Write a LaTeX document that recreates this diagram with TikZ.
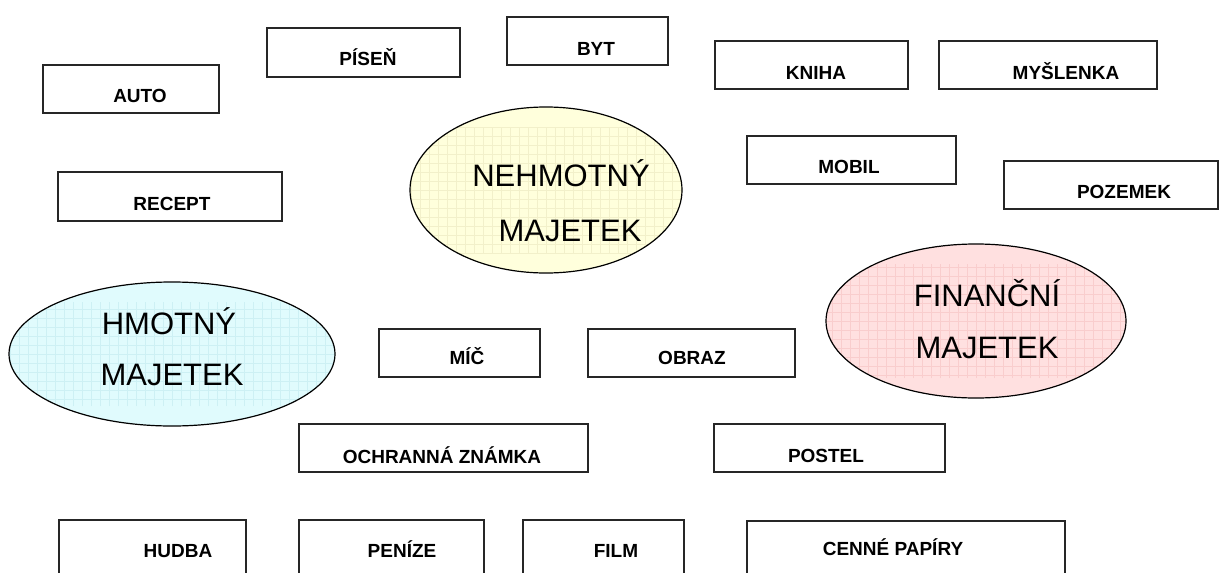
\documentclass[tikz,border=0pt]{standalone}
\usepackage{fontspec}
\setmainfont{Liberation Sans}
\usetikzlibrary{shapes.geometric}
\definecolor{cyfill}{HTML}{E0FBFD}
\definecolor{cygrid}{HTML}{CDF0F4}
\definecolor{yefill}{HTML}{FFFFDC}
\definecolor{yegrid}{HTML}{F2F0CA}
\definecolor{pkfill}{HTML}{FFE0E0}
\definecolor{pkgrid}{HTML}{F9CDCD}
\tikzset{
  boxnode/.style={draw=black!85, line width=1.3pt, rectangle, inner sep=0pt},
  boxtext/.style={anchor=base, inner sep=0pt, font=\fontsize{19}{19}\selectfont\bfseries},
  elltext/.style={anchor=base, inner sep=0pt, font=\fontsize{31}{31}\selectfont},
  ellnode/.style 2 args={draw=black, line width=1.2pt, ellipse, inner sep=0pt, fill=#1,
    path picture={\draw[#2, line width=0.45pt] ([xshift=-20pt,yshift=20pt]path picture bounding box.south west) grid[xstep=9pt,ystep=9pt] ([xshift=20pt,yshift=-20pt]path picture bounding box.north east);}}
}
\begin{document}
\begin{tikzpicture}[x=1pt,y=-1pt]
\useasboundingbox (0,0) rectangle (1219,573);
\clip (0,0) rectangle (1219,573);
\fill[white] (0,0) rectangle (1219,573);

% ellipses
\node[ellnode={cyfill}{cygrid}, minimum width=326pt, minimum height=144pt] (hm) at (172,354) {};
\node[elltext] (hmt1) at (169,334) {HMOTNÝ};
\node[elltext] (hmt2) at (172,385) {MAJETEK};

\node[ellnode={yefill}{yegrid}, minimum width=272pt, minimum height=166pt] (nh) at (546,190) {};
\node[elltext] (nht1) at (561,186) {NEHMOTNÝ};
\node[elltext] (nht2) at (570,241) {MAJETEK};

\node[ellnode={pkfill}{pkgrid}, minimum width=300pt, minimum height=154pt] (fi) at (976,321) {};
\node[elltext] (fit1) at (987,306) {FINANČNÍ};
\node[elltext] (fit2) at (987,358) {MAJETEK};

% boxes
\node[boxnode, minimum width=176pt, minimum height=48pt] (auto) at (131,89) {};
\node[boxtext] (autot) at (140,102) {AUTO};

\node[boxnode, minimum width=193pt, minimum height=49pt] (pisen) at (363.5,52.5) {};
\node[boxtext] (pisent) at (368,65) {PÍSEŇ};

\node[boxnode, minimum width=161pt, minimum height=48pt] (byt) at (587.5,41) {};
\node[boxtext] (bytt) at (596,55) {BYT};

\node[boxnode, minimum width=193pt, minimum height=48pt] (kniha) at (811.5,65) {};
\node[boxtext] (knihat) at (816,79) {KNIHA};

\node[boxnode, minimum width=218pt, minimum height=48pt] (mysl) at (1048,65) {};
\node[boxtext] (myslt) at (1066,79) {MYŠLENKA};

\node[boxnode, minimum width=209pt, minimum height=48pt] (mobil) at (851.5,160) {};
\node[boxtext] (mobilt) at (849,173) {MOBIL};

\node[boxnode, minimum width=214pt, minimum height=48pt] (pozem) at (1111,185) {};
\node[boxtext] (pozemt) at (1124,198) {POZEMEK};

\node[boxnode, minimum width=224pt, minimum height=49pt] (recept) at (170,196.5) {};
\node[boxtext] (receptt) at (172,210) {RECEPT};

\node[boxnode, minimum width=161pt, minimum height=48pt] (mic) at (459.5,353) {};
\node[boxtext] (mict) at (467,364) {MÍČ};

\node[boxnode, minimum width=207pt, minimum height=48pt] (obraz) at (691.5,353) {};
\node[boxtext] (obrazt) at (692,364) {OBRAZ};

\node[boxnode, minimum width=289pt, minimum height=48pt] (ochr) at (443.5,448) {};
\node[boxtext] (ochrt) at (442,463) {OCHRANNÁ ZNÁMKA};

\node[boxnode, minimum width=231pt, minimum height=48pt] (postel) at (829.5,448) {};
\node[boxtext] (postelt) at (826,462) {POSTEL};

\node[boxnode, minimum width=187pt, minimum height=60pt] (hudba) at (152.5,550) {};
\node[boxtext] (hudbat) at (178,557) {HUDBA};

\node[boxnode, minimum width=185pt, minimum height=60pt] (penize) at (391.5,550) {};
\node[boxtext] (penizet) at (402,557) {PENÍZE};

\node[boxnode, minimum width=161pt, minimum height=60pt] (film) at (603.5,550) {};
\node[boxtext] (filmt) at (616,557) {FILM};

\node[boxnode, minimum width=318pt, minimum height=60pt] (cenne) at (906,551) {};
\node[boxtext] (cennet) at (893,555) {CENNÉ PAPÍRY};
\end{tikzpicture}
\end{document}
